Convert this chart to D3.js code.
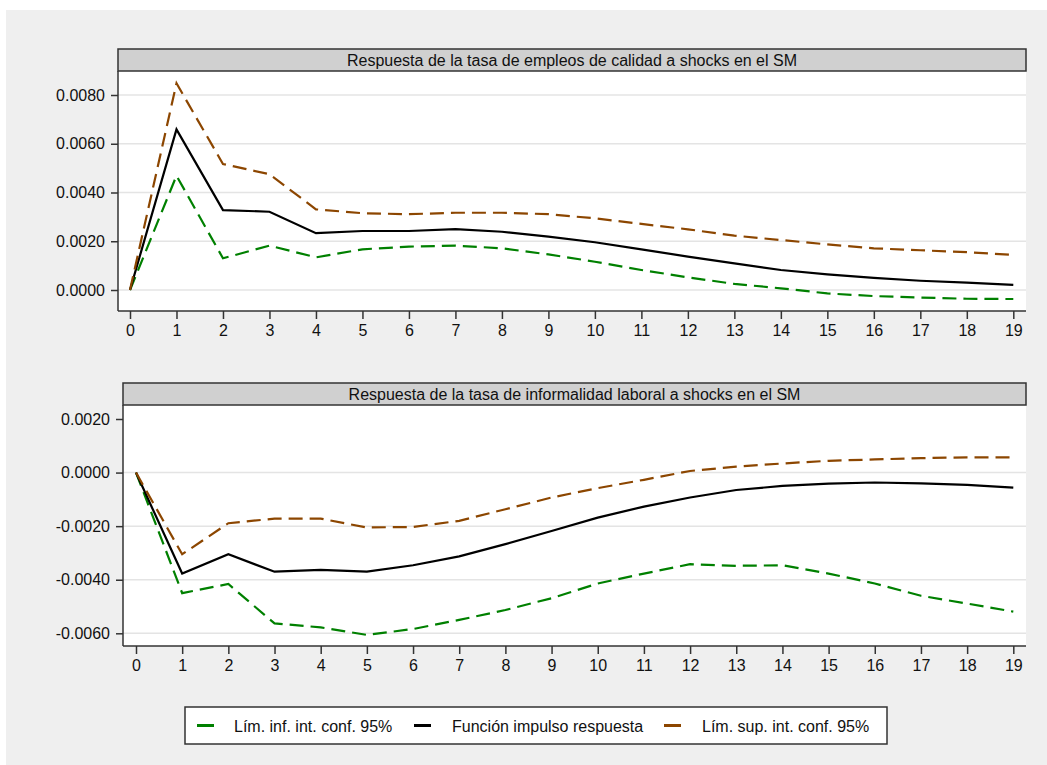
<html>
<script src="https://cdnjs.cloudflare.com/ajax/libs/d3/7.8.5/d3.min.js"></script>
<style>
  body { margin: 0; background: #fff; }
  text { font-family: "Liberation Sans", Arial, sans-serif; fill: #111; }
</style>
<body>
  <svg width="1047" height="765"></svg>
</body>
</html>
<script>
  // periodos del horizonte
  const periodos = [0,1,2,3,4,5,6,7,8,9,10,11,12,13,14,15,16,17,18,19];

  // empleos de calidad
  const empInf = [0, 0.00469, 0.00130, 0.00182, 0.00134, 0.00167, 0.00178, 0.00182, 0.00171, 0.00146, 0.00116, 0.00082, 0.00052, 0.00025, 0.00007, -0.00014, -0.00025, -0.00031, -0.00036, -0.00037];
  const empIrf = [0, 0.00659, 0.00328, 0.00321, 0.00233, 0.00242, 0.00242, 0.00250, 0.00239, 0.00219, 0.00196, 0.00167, 0.00137, 0.00109, 0.00082, 0.00064, 0.00050, 0.00038, 0.00030, 0.00021];
  const empSup = [0, 0.00848, 0.00517, 0.00475, 0.00331, 0.00315, 0.00311, 0.00317, 0.00317, 0.00311, 0.00294, 0.00271, 0.00249, 0.00223, 0.00205, 0.00187, 0.00171, 0.00163, 0.00155, 0.00144];

  // informalidad laboral
  const infInf = [0, -0.00450, -0.00416, -0.00563, -0.00578, -0.00606, -0.00584, -0.00550, -0.00513, -0.00469, -0.00414, -0.00377, -0.00342, -0.00348, -0.00346, -0.00377, -0.00414, -0.00460, -0.00489, -0.00519];
  const infIrf = [0, -0.00377, -0.00305, -0.00370, -0.00363, -0.00370, -0.00346, -0.00313, -0.00267, -0.00218, -0.00168, -0.00127, -0.00093, -0.00065, -0.00050, -0.00041, -0.00037, -0.00040, -0.00046, -0.00056];
  const infSup = [0, -0.00305, -0.00189, -0.00172, -0.00172, -0.00205, -0.00203, -0.00180, -0.00137, -0.00093, -0.00058, -0.00027, 0.00006, 0.00022, 0.00034, 0.00044, 0.00049, 0.00054, 0.00057, 0.00057];

  const ticksEmp = [0, 0.002, 0.004, 0.006, 0.008];
  const ticksInf = [-0.006, -0.004, -0.002, 0, 0.002];
  const gridInf = [-0.006, -0.004, -0.002, 0];

  const titulos = [
    'Respuesta de la tasa de empleos de calidad a shocks en el SM',
    'Respuesta de la tasa de informalidad laboral a shocks en el SM'
  ];
  const leyenda = ['Lím. inf. int. conf. 95%', 'Función impulso respuesta', 'Lím. sup. int. conf. 95%'];

  const verde = '#008000', negro = '#000000', cafe = '#8c4600';

  const svg = d3.select('svg');

  svg.append('rect')
    .attr('x', 6).attr('y', 10).attr('width', 1041).attr('height', 755)
    .attr('fill', '#efefef');

  const fmt = (v) => v.toFixed(4);

  function panel(cfg) {
    const g = svg.append('g');
    const x = d3.scaleLinear().domain([0, 19]).range(cfg.xr);
    const y = d3.scaleLinear().domain(cfg.yd).range(cfg.yr);

    // area del grafico
    g.append('rect')
      .attr('x', cfg.left).attr('y', cfg.top)
      .attr('width', cfg.right - cfg.left).attr('height', cfg.bottom - cfg.top)
      .attr('fill', '#fff');

    // lineas de grilla
    g.selectAll('.grid')
      .data(cfg.grid)
      .enter()
      .append('line')
      .attr('x1', cfg.left).attr('x2', cfg.right)
      .attr('y1', (d) => y(d)).attr('y2', (d) => y(d))
      .attr('stroke', '#e4e4e4')
      .attr('stroke-width', 1.5);

    // titulo en franja gris
    g.append('rect')
      .attr('x', cfg.left).attr('y', cfg.top - 22)
      .attr('width', cfg.right - cfg.left).attr('height', 22)
      .attr('fill', '#d0d0d0')
      .attr('stroke', '#333')
      .attr('stroke-width', 1.5);
    g.append('text')
      .attr('x', (cfg.left + cfg.right) / 2)
      .attr('y', cfg.top - 5.5)
      .attr('text-anchor', 'middle')
      .style('font-size', '16px')
      .text(cfg.titulo);

    // ejes
    const ay = g.append('g')
      .attr('transform', `translate(${cfg.left},0)`)
      .call(d3.axisLeft(y).tickValues(cfg.ticks).tickFormat(fmt).tickSize(7).tickPadding(6));
    const ax = g.append('g')
      .attr('transform', `translate(0,${cfg.bottom})`)
      .call(d3.axisBottom(x).tickValues(periodos).tickFormat(d3.format('d')).tickSize(8).tickPadding(6));
    [ay, ax].forEach((a) => {
      a.select('.domain').remove();
      a.selectAll('line').attr('stroke', '#333').attr('stroke-width', 1.5);
      a.selectAll('text').style('font-size', '16px').style('font-family', '"Liberation Sans", Arial, sans-serif').attr('fill', '#111');
    });
    g.append('line')
      .attr('x1', cfg.left).attr('x2', cfg.left)
      .attr('y1', cfg.top).attr('y2', cfg.bottom)
      .attr('stroke', '#333').attr('stroke-width', 1.5);
    g.append('line')
      .attr('x1', cfg.left).attr('x2', cfg.right)
      .attr('y1', cfg.bottom).attr('y2', cfg.bottom)
      .attr('stroke', '#333').attr('stroke-width', 1.5);

    const linea = d3.line()
      .x((d, i) => x(periodos[i]))
      .y((d) => y(d));

    const series = [
      { v: cfg.inf, c: verde, dash: '14,7' },
      { v: cfg.irf, c: negro, dash: null },
      { v: cfg.sup, c: cafe, dash: '14,7' }
    ];
    series.forEach((s) => {
      g.append('path')
        .datum(s.v)
        .attr('d', linea)
        .attr('fill', 'none')
        .attr('stroke', s.c)
        .attr('stroke-width', 2.2)
        .attr('stroke-dasharray', s.dash);
    });
  }

  panel({
    left: 118, right: 1026, top: 71, bottom: 311,
    xr: [130, 1013.3], yd: [0, 0.008], yr: [290, 95],
    ticks: ticksEmp, grid: ticksEmp, titulo: titulos[0],
    inf: empInf, irf: empIrf, sup: empSup
  });

  panel({
    left: 123, right: 1026, top: 405, bottom: 646,
    xr: [136, 1013.3], yd: [-0.006, 0.002], yr: [633.3, 419],
    ticks: ticksInf, grid: gridInf, titulo: titulos[1],
    inf: infInf, irf: infIrf, sup: infSup
  });

  // leyenda
  const ley = svg.append('g');
  ley.append('rect')
    .attr('x', 185).attr('y', 707).attr('width', 702).attr('height', 37)
    .attr('fill', '#fff').attr('stroke', '#333').attr('stroke-width', 1.5);
  const items = [
    { t: leyenda[0], c: verde, sx: 197, tx: 234 },
    { t: leyenda[1], c: negro, sx: 414, tx: 452 },
    { t: leyenda[2], c: cafe, sx: 664, tx: 702 }
  ];
  items.forEach((it) => {
    ley.append('line')
      .attr('x1', it.sx).attr('x2', it.sx + 17)
      .attr('y1', 725.5).attr('y2', 725.5)
      .attr('stroke', it.c).attr('stroke-width', 3);
    ley.append('text')
      .attr('x', it.tx).attr('y', 731.5)
      .style('font-size', '16px')
      .text(it.t);
  });
</script>
